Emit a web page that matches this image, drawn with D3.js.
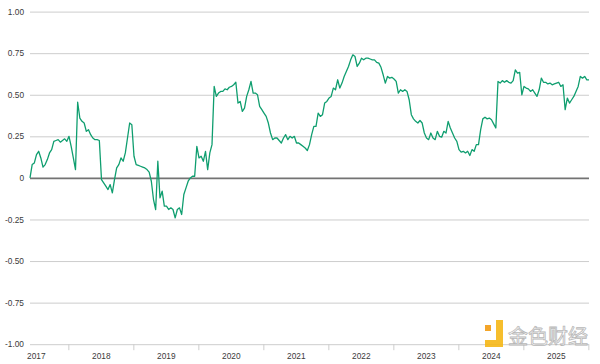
<!DOCTYPE html>
<html>
<head>
<meta charset="utf-8">
<script src="https://cdn.jsdelivr.net/npm/d3@7"></script>
<style>
	body { margin: 0; background: #fff; }
	svg { display: block; }
</style>
</head>
<body>
<svg id="chart" width="600" height="364"></svg>
<script>
// first sample (fractional year) and samples per year
var startYear = 2017.41;
var perYear = 30;

// rolling correlation
var corr = [
	0.00, 0.08, 0.09, 0.14, 0.16, 0.12, 0.065, 0.08, 0.11, 0.15,
	0.17, 0.22, 0.225, 0.23, 0.215, 0.225, 0.235, 0.22, 0.25, 0.19,
	0.12, 0.05, 0.455, 0.36, 0.34, 0.33, 0.28, 0.29, 0.26, 0.24,
	0.23, 0.23, 0.225, -0.01, -0.03, -0.05, -0.07, -0.04, -0.09, -0.01,
	0.06, 0.08, 0.12, 0.10, 0.15, 0.24, 0.33, 0.32, 0.13, 0.08,
	0.075, 0.07, 0.065, 0.06, 0.05, 0.035, -0.02, -0.13, -0.19, 0.10,
	-0.12, -0.08, -0.17, -0.17, -0.19, -0.18, -0.19, -0.24, -0.19, -0.18,
	-0.22, -0.10, -0.06, -0.02, 0.00, 0.01, 0.01, 0.19, 0.12, 0.13,
	0.10, 0.16, 0.05, 0.15, 0.20, 0.55, 0.49, 0.51, 0.52, 0.52,
	0.535, 0.53, 0.545, 0.55, 0.56, 0.575, 0.45, 0.46, 0.40, 0.42,
	0.49, 0.53, 0.58, 0.51, 0.51, 0.50, 0.43, 0.41, 0.39, 0.37,
	0.33, 0.27, 0.23, 0.24, 0.24, 0.225, 0.21, 0.24, 0.26, 0.23,
	0.25, 0.24, 0.25, 0.21, 0.21, 0.20, 0.19, 0.18, 0.165, 0.20,
	0.26, 0.31, 0.31, 0.39, 0.37, 0.38, 0.45, 0.46, 0.48, 0.49,
	0.54, 0.53, 0.59, 0.54, 0.57, 0.61, 0.64, 0.67, 0.71, 0.74,
	0.73, 0.67, 0.69, 0.72, 0.71, 0.72, 0.72, 0.715, 0.71, 0.71,
	0.695, 0.69, 0.665, 0.62, 0.57, 0.61, 0.60, 0.605, 0.595, 0.58,
	0.51, 0.53, 0.52, 0.53, 0.52, 0.47, 0.38, 0.355, 0.34, 0.33,
	0.345, 0.33, 0.27, 0.24, 0.23, 0.27, 0.24, 0.23, 0.28, 0.25,
	0.245, 0.28, 0.27, 0.34, 0.30, 0.27, 0.24, 0.22, 0.17, 0.155,
	0.16, 0.15, 0.16, 0.135, 0.17, 0.16, 0.20, 0.20, 0.29, 0.355,
	0.365, 0.355, 0.36, 0.35, 0.325, 0.30, 0.58, 0.57, 0.585, 0.575,
	0.585, 0.575, 0.57, 0.585, 0.65, 0.63, 0.635, 0.50, 0.55, 0.54,
	0.535, 0.52, 0.53, 0.51, 0.49, 0.53, 0.60, 0.575, 0.575, 0.565,
	0.57, 0.56, 0.565, 0.57, 0.575, 0.55, 0.56, 0.41, 0.48, 0.45,
	0.47, 0.49, 0.52, 0.55, 0.61, 0.60, 0.61, 0.59, 0.59
];

var yTicks = [1, 0.75, 0.5, 0.25, 0, -0.25, -0.5, -0.75, -1];
var yLabels = ["1.00", "0.75", "0.50", "0.25", "0", "-0.25", "-0.50", "-0.75", "-1.00"];
var yearLabels = [2017, 2018, 2019, 2020, 2021, 2022, 2023, 2024, 2025];
var yearBreaks = [2018, 2019, 2020, 2021, 2022, 2023, 2024, 2025, 2026];

var svg = d3.select("#chart");
var plotLeft = 30, plotRight = 589, plotTop = 11.6, plotBottom = 344.2;

var dates = corr.map(function(d, i) { return startYear + i / perYear; });

var x = d3.scaleLinear()
	.domain([dates[0], dates[dates.length - 1]])
	.range([plotLeft, plotRight]);

var y = d3.scaleLinear()
	.domain([-1, 1])
	.range([plotBottom, plotTop]);

// horizontal grid + y labels
var yAxis = svg.append("g")
	.attr("transform", "translate(" + plotLeft + ",0)")
	.call(d3.axisLeft(y)
		.tickValues(yTicks)
		.tickSize(-(plotRight - plotLeft))
		.tickPadding(6)
		.tickFormat(function(d, i) { return yLabels[i]; }));
yAxis.select(".domain").remove();
yAxis.selectAll(".tick line")
	.attr("stroke", function(d) { return d === 0 ? "#737373" : "#cdcdcd"; })
	.attr("stroke-width", function(d) { return d === 0 ? 1.8 : 1; });
yAxis.selectAll(".tick text")
	.style("font-family", "'Liberation Sans', Arial, sans-serif")
	.style("font-size", "8.3px")
	.attr("fill", "#3a3a3a");

// year break ticks
var xTicks = svg.append("g")
	.attr("transform", "translate(0," + plotBottom + ")")
	.call(d3.axisBottom(x)
		.tickValues(yearBreaks.filter(function(d) { return x(d) <= plotRight + 0.5; }))
		.tickSize(6)
		.tickFormat(""));
xTicks.select(".domain").remove();
xTicks.selectAll(".tick line").attr("stroke", "#cdcdcd");

// year labels, centred on mid-year
var xLabels = svg.append("g")
	.attr("transform", "translate(0," + plotBottom + ")")
	.call(d3.axisBottom(x)
		.tickValues(yearLabels.map(function(d) { return d + 0.5; }))
		.tickSize(0)
		.tickPadding(9)
		.tickFormat(function(d, i) { return yearLabels[i]; }));
xLabels.select(".domain").remove();
xLabels.selectAll(".tick text")
	.style("font-family", "'Liberation Sans', Arial, sans-serif")
	.style("font-size", "8.3px")
	.attr("fill", "#3a3a3a");

var line = d3.line()
	.x(function(d, i) { return x(dates[i]); })
	.y(function(d) { return y(d); });

svg.append("path")
	.datum(corr)
	.attr("d", line)
	.attr("fill", "none")
	.attr("stroke", "#0f9e6f")
	.attr("stroke-width", 1.3)
	.attr("stroke-linejoin", "round");

// watermark
var wm = svg.append("g").attr("opacity", 0.9);
wm.append("rect").attr("x", 485).attr("y", 325).attr("width", 6).attr("height", 6).attr("fill", "#f39c12");
wm.append("rect").attr("x", 496).attr("y", 320).attr("width", 7).attr("height", 27).attr("fill", "#f6b817");
wm.append("rect").attr("x", 485).attr("y", 340).attr("width", 18).attr("height", 7).attr("fill", "#f6b817");
wm.append("text")
	.attr("x", 508)
	.attr("y", 344)
	.text("金色财经")
	.style("font-family", "'Noto Sans CJK SC', sans-serif")
	.style("font-size", "20px")
	.attr("fill", "#ffffff")
	.attr("fill-opacity", 0.85)
	.attr("stroke", "#b0b0b0")
	.attr("stroke-width", 0.8);
</script>
</body>
</html>
